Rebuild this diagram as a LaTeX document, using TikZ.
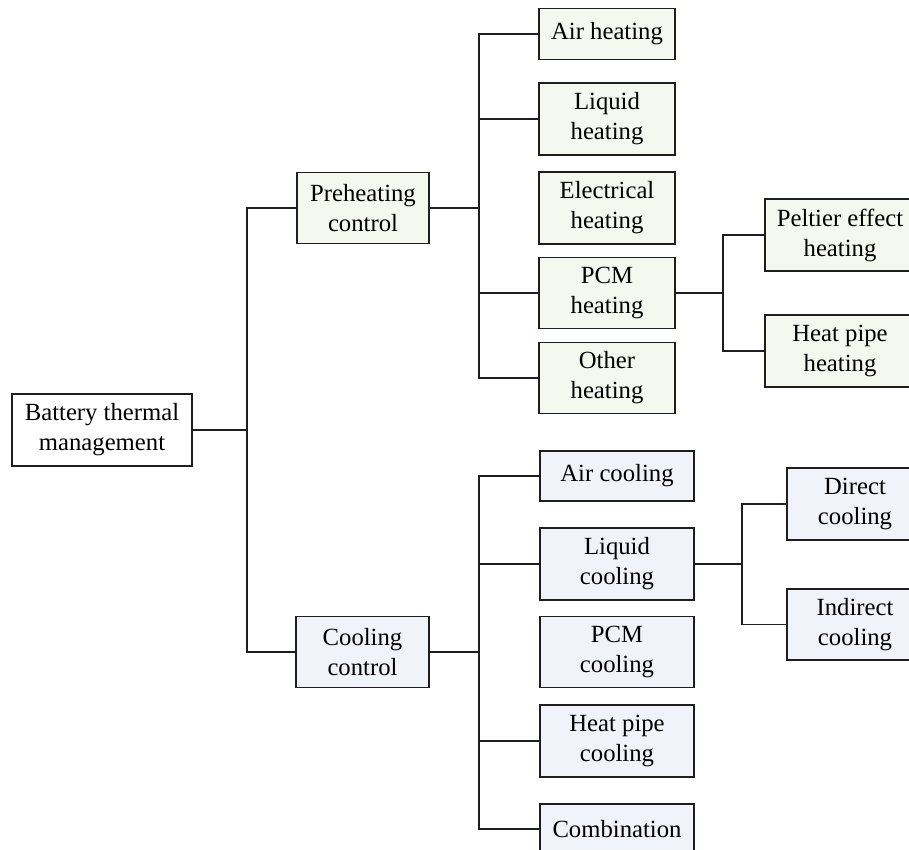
\documentclass[tikz,border=0pt]{standalone}
\usepackage{fontspec}
\setmainfont{Liberation Serif}
\definecolor{heatfill}{RGB}{245,248,238}
\definecolor{coolfill}{RGB}{240,243,249}
\definecolor{edge}{RGB}{30,30,30}
\begin{document}
\begin{tikzpicture}[x=1pt,y=-1pt,
  box/.style={draw=edge,line width=1.4pt,inner sep=0pt,align=center,
    font=\fontsize{24.7}{30}\selectfont},
  heat/.style={box,fill=heatfill},
  cool/.style={box,fill=coolfill},
  link/.style={draw=edge,line width=1.4pt}]
\useasboundingbox (0,0) rectangle (909,850);
\clip (0,0) rectangle (909,850);

% root and the two control branches
\node[box,fill=white,minimum width=180pt,minimum height=72pt] (root) at (102,430) {Battery thermal\\management};
\node[heat,minimum width=132pt,minimum height=71pt] (pre) at (363,208) {Preheating\\control};
\node[cool,minimum width=133pt,minimum height=71pt] (cool) at (362.5,652) {Cooling\\control};

% preheating methods
\node[heat,minimum width=136pt,minimum height=51pt] (hair) at (607,34) {Air heating};
\node[heat,minimum width=136pt,minimum height=72pt] (hliq) at (607,119) {Liquid\\heating};
\node[heat,minimum width=136pt,minimum height=72pt] (hele) at (607,208) {Electrical\\heating};
\node[heat,minimum width=136pt,minimum height=71pt] (hpcm) at (607,293) {PCM\\heating};
\node[heat,minimum width=136pt,minimum height=71pt] (hoth) at (607,378) {Other\\heating};
\node[heat,minimum width=150pt,minimum height=72pt] (hpel) at (840,235) {Peltier effect\\heating};
\node[heat,minimum width=150pt,minimum height=72pt] (hpipe) at (840,351) {Heat pipe\\heating};

% cooling methods
\node[cool,minimum width=154pt,minimum height=50pt] (cair) at (617,476) {Air cooling};
\node[cool,minimum width=154pt,minimum height=72pt] (cliq) at (617,564) {Liquid\\cooling};
\node[cool,minimum width=154pt,minimum height=71pt] (cpcm) at (617,652) {PCM\\cooling};
\node[cool,minimum width=154pt,minimum height=72pt] (cpipe) at (617,741) {Heat pipe\\cooling};
\node[cool,minimum width=154pt,minimum height=50pt] (ccomb) at (617,829) {Combination};
\node[cool,minimum width=136pt,minimum height=72pt] (cdir) at (855,504) {Direct\\cooling};
\node[cool,minimum width=136pt,minimum height=71pt] (cind) at (855,624.5) {Indirect\\cooling};

% junction points of the tree
\coordinate (t0) at (247,430);
\coordinate (th) at (479,208);
\coordinate (tc) at (479,652);
\coordinate (tp) at (723,293);
\coordinate (tl) at (742,564);

% connectors
\draw[link] (root.east) -- (t0);
\draw[link] (pre.west) -| (t0) |- (cool.west);

\draw[link] (pre.east) -- (th);
\draw[link] (hair.west) -| (th) |- (hoth.west);
\draw[link] (hliq.west -| th) -- (hliq.west);
\draw[link] (hpcm.west -| th) -- (hpcm.west);

\draw[link] (hpcm.east) -- (tp);
\draw[link] (hpel.west) -| (tp) |- (hpipe.west);

\draw[link] (cool.east) -- (tc);
\draw[link] (cair.west) -| (tc) |- (ccomb.west);
\draw[link] (cliq.west -| tc) -- (cliq.west);
\draw[link] (cpipe.west -| tc) -- (cpipe.west);

\draw[link] (cliq.east) -- (tl);
\draw[link] (cdir.west) -| (tl) |- (cind.west);
\end{tikzpicture}
\end{document}
